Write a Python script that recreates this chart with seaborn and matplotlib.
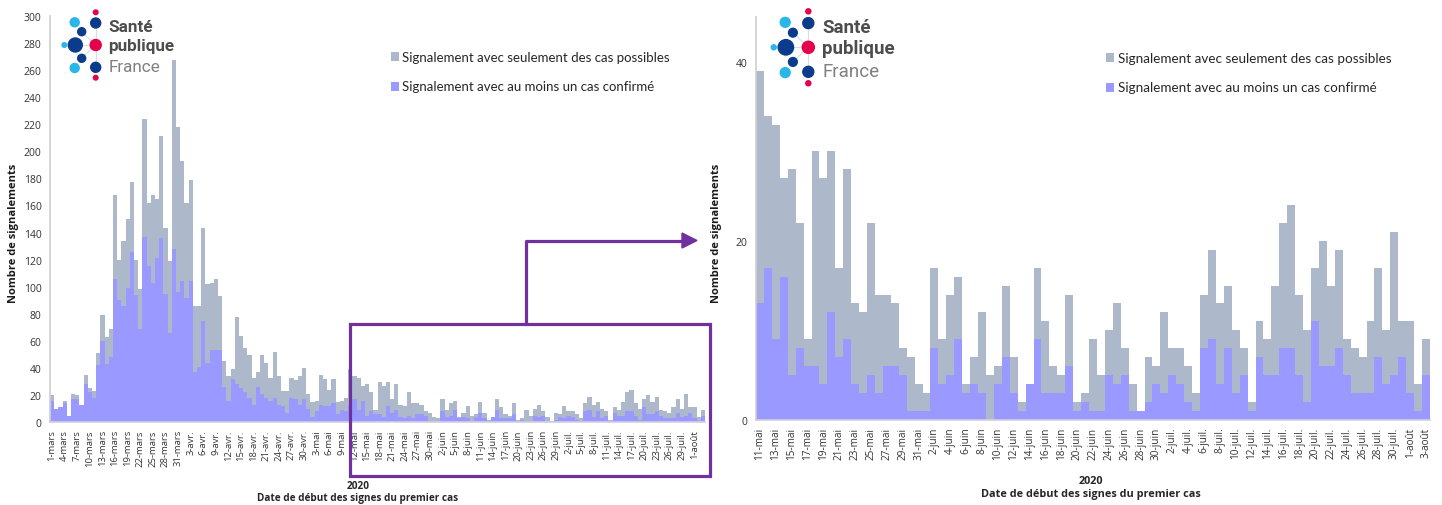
import numpy as np
import pandas as pd
import seaborn as sns
import matplotlib.pyplot as plt
from matplotlib.patches import Rectangle, Polygon, Circle
from matplotlib.lines import Line2D

W, H = 1442, 506

# dates et libellés (1er mars -> 3 août 2020)
mois = {3: "mars", 4: "avr.", 5: "mai", 6: "juin", 7: "juil.", 8: "août"}
jours = pd.date_range("2020-03-01", "2020-08-03")
libelles = [f"{d.day}-{mois[d.month]}" for d in jours]

total_debut = [20, 10, 11, 16, 5, 21, 20, 13, 35, 25, 23, 51, 79, 63, 69,
               168, 120, 134, 150, 177, 120, 98, 224, 162, 168, 165, 211, 143, 119, 267,
               218, 193, 162, 179, 86, 86, 143, 102, 103, 106, 93, 45, 34, 39, 78,
               64, 55, 50, 33, 37, 50, 44, 33, 52, 34, 23, 23,
               33, 31, 34, 40, 21, 15, 16, 35, 32, 24, 32, 15, 16, 18]
confirmes_debut = [16, 10, 11, 14, 5, 17, 17, 13, 28, 22, 18, 42, 60, 43, 48,
                   106, 90, 86, 99, 126, 94, 69, 137, 115, 103, 121, 136, 95, 66, 128,
                   96, 104, 92, 104, 37, 41, 75, 44, 53, 53, 53, 26, 16, 32, 28,
                   25, 22, 18, 13, 26, 21, 18, 16, 18, 13, 12, 7,
                   18, 17, 13, 17, 10, 4, 8, 13, 12, 12, 14, 6, 9, 8]

# 11 mai -> 3 août (graphique de droite)
total_zoom = [39, 34, 33, 27, 28, 22, 9, 30, 27, 30,
              17, 28, 13, 12, 22, 14, 14, 13, 8, 7,
              4, 3, 17, 9, 14, 16, 4, 7, 12, 5,
              6, 15, 7, 2, 4, 17, 11, 6, 5, 14,
              2, 3, 9, 5, 10, 13, 8, 4, 1, 7,
              6, 12, 8, 8, 6, 3, 14, 19, 13, 15,
              10, 8, 2, 11, 9, 15, 22, 24, 14, 10,
              17, 20, 15, 19, 9, 8, 7, 11, 17, 10,
              21, 11, 11, 4, 9]
confirmes_zoom = [13, 17, 9, 16, 5, 8, 6, 6, 4, 12,
                  7, 9, 4, 3, 5, 3, 6, 6, 5, 1,
                  1, 1, 8, 4, 5, 9, 3, 4, 3, 0,
                  4, 7, 3, 1, 4, 9, 3, 3, 3, 6,
                  1, 2, 1, 1, 5, 4, 5, 1, 1, 2,
                  4, 3, 5, 4, 2, 1, 8, 9, 4, 8,
                  3, 5, 1, 7, 5, 5, 8, 8, 5, 2,
                  11, 6, 6, 8, 5, 3, 3, 3, 7, 4,
                  5, 7, 3, 1, 5]

total = total_debut + total_zoom
confirmes = confirmes_debut + confirmes_zoom
debut_zoom = len(total_debut)

gris = "#adb9ca"
bleu = "#9999ff"
violet = "#7030a0"

sns.set_theme(style="white")
plt.rcParams["font.family"] = ["Open Sans", "DejaVu Sans"]

fig = plt.figure(figsize=(W / 100, H / 100), dpi=100)


def axes_px(x0, y0, x1, y1):
    return fig.add_axes([x0 / W, 1 - y1 / H, (x1 - x0) / W, (y1 - y0) / H])


def histo(ax, tot, conf, lab, pas, ymax, ystep, fs):
    df = pd.DataFrame({"jour": lab, "total": tot, "confirme": conf})
    sns.barplot(data=df, x="jour", y="total", color=gris, width=1, linewidth=0,
                saturation=1, errorbar=None, ax=ax)
    sns.barplot(data=df, x="jour", y="confirme", color=bleu, width=1, linewidth=0,
                saturation=1, errorbar=None, ax=ax)
    n = len(lab)
    ax.set_xlim(-0.5, n - 0.5)
    ax.set_ylim(0, ymax)
    ax.set_xticks(range(0, n, pas))
    ax.set_xticklabels(lab[::pas], rotation=90, fontsize=fs, color="#333333")
    ax.set_yticks(range(0, ymax + 1, ystep))
    ax.tick_params(axis="y", length=0, pad=6, labelsize=7.5, labelcolor="#333333")
    ax.tick_params(axis="x", length=3, width=0.6, color="#bfbfbf", pad=2)
    for s in ["top", "right"]:
        ax.spines[s].set_visible(False)
    ax.spines["left"].set_color("#d0d0d0")
    ax.spines["bottom"].set_color("#d0d0e0")
    ax.set_xlabel("")
    ax.set_ylabel("Nombre de signalements", fontsize=8, fontweight="bold", color="#1a1a1a")


ax1 = axes_px(50, 16.7, 705, 423.3)
histo(ax1, total, confirmes, libelles, 3, 300, 20, 6.8)
ax1.yaxis.set_label_coords(-0.047, 0.466)

ax2 = axes_px(756, 18.3, 1430, 420.7)
histo(ax2, total_zoom, confirmes_zoom, libelles[debut_zoom:], 2, 45, 20, 7.2)
ax2.set_yticks([0, 20, 40])
ax2.yaxis.set_label_coords(-0.050, 0.466)

# calque en pixels pour logo, légende, cadre et flèche
ov = fig.add_axes([0, 0, 1, 1])
ov.set_xlim(0, W)
ov.set_ylim(H, 0)
ov.axis("off")
ov.patch.set_alpha(0)

fig.text(358 / W, 1 - 487 / H, "2020", ha="center", va="center", fontsize=7.2, fontweight="bold")
fig.text(358 / W, 1 - 499 / H, "Date de début des signes du premier cas", ha="center", va="center",
         fontsize=7.2, fontweight="bold")
fig.text(1091 / W, 1 - 482 / H, "2020", ha="center", va="center", fontsize=7.8, fontweight="bold")
fig.text(1091 / W, 1 - 495 / H, "Date de début des signes du premier cas", ha="center", va="center",
         fontsize=7.8, fontweight="bold")


def logo(cx, cy, k):
    fonce, clair, rose = "#0b3c8c", "#29b6e8", "#e6004c"
    pts = [(0, -32.7, 2.3, rose), (0, -22, 5, fonce), (-21, -22.7, 4.5, clair),
           (-14, -13.3, 4, fonce), (-20.4, 0, 7, fonce), (-31.4, 0, 2.3, clair),
           (0, 0, 5.5, rose), (-14, 13.3, 4, fonce), (-21, 23, 4.5, clair),
           (0, 22.3, 5, fonce), (0, 32.7, 2.3, rose)]
    for dx, dy, r, c in pts:
        if (dx != 0 or dy != 0) and abs(dy) < 25 and c != clair:
            ov.add_line(Line2D([cx, cx + dx * k], [cy, cy + dy * k], color="#dddddd", lw=0.8, zorder=1))
    for dx, dy, r, c in pts:
        ov.add_patch(Circle((cx + dx * k, cy + dy * k), r * k, color=c, zorder=2))
    tx = cx + 12.5 * k
    ov.text(tx, cy - 18.5 * k, "Santé", fontsize=12.3 * k, fontweight="bold", color="#4d4d4d",
            va="center", ha="left", family="Roboto")
    ov.text(tx, cy + 0.5 * k, "publique", fontsize=12.3 * k, fontweight="bold", color="#4d4d4d",
            va="center", ha="left", family="Roboto")
    ov.text(tx, cy + 21.5 * k, "France", fontsize=12.3 * k, color="#808080",
            va="center", ha="left", family="Roboto")


logo(95.7, 46, 1.0)
logo(808.3, 48.3, 1.1)


def legende(x, y1, y2, fs):
    for y, c, t in [(y1, gris, "Signalement avec seulement des cas possibles"),
                    (y2, bleu, "Signalement avec au moins un cas confirmé")]:
        ov.add_patch(Rectangle((x, y - 4.5), 8, 9, color=c, lw=0))
        ov.text(x + 11.5, y, t, fontsize=fs, va="center", ha="left", family="Lato", color="#262626")


legende(390.5, 57.6, 87, 9.5)
legende(1106, 58.7, 88, 9.7)

# cadre violet et flèche
ov.add_patch(Rectangle((350, 325), 360, 152, fill=False, ec=violet, lw=2.3, zorder=5))
ov.add_line(Line2D([526, 526, 684], [325, 241.5, 241.5], color=violet, lw=2.3, zorder=5))
ov.add_patch(Polygon([[682, 234], [697, 241.5], [682, 249]], closed=True, color=violet, zorder=5))

fig.savefig("out.png", dpi=100)
